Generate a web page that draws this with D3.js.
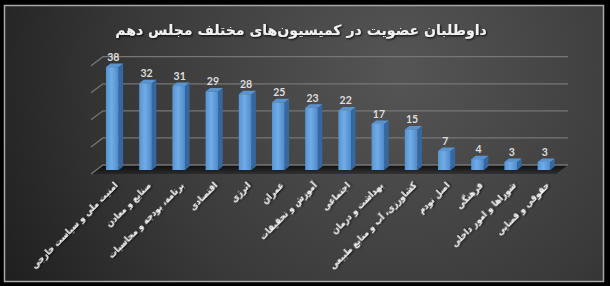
<!DOCTYPE html>
<html><head><meta charset="utf-8">
<script src="https://cdn.jsdelivr.net/npm/d3@7"></script>
<style>
html,body{margin:0;padding:0;background:#000;}
svg{display:block;}
</style></head>
<body>
<script>
const title = "داوطلبان عضویت در کمیسیون‌های مختلف مجلس دهم";
const categories = [
  "امنیت ملی و سیاست خارجی",
  "صنایع و معادن",
  "برنامه، بودجه و محاسبات",
  "اقتصادی",
  "انرژی",
  "عمران",
  "آموزش و تحقیقات",
  "اجتماعی",
  "بهداشت و درمان",
  "کشاورزی، آب و منابع طبیعی",
  "اصل نودم",
  "فرهنگی",
  "شوراها و امور داخلی",
  "حقوقی و قضایی"
];
const values = [38, 32, 31, 29, 28, 25, 23, 22, 17, 15, 7, 4, 3, 3];
const yTicks = [0, 10, 20, 30, 40];

const W = 610, H = 286;
const svg = d3.select("body").append("svg").attr("width", W).attr("height", H);
const defs = svg.append("defs");

const bg = defs.append("radialGradient").attr("id","bg")
  .attr("gradientUnits","userSpaceOnUse").attr("cx",400).attr("cy",70).attr("r",470);
bg.append("stop").attr("offset","0%").attr("stop-color","#555555");
bg.append("stop").attr("offset","55%").attr("stop-color","#3a3a3a");
bg.append("stop").attr("offset","100%").attr("stop-color","#1c1c1c");

const front = defs.append("linearGradient").attr("id","front").attr("x1","0").attr("x2","1").attr("y1","0").attr("y2","0");
front.append("stop").attr("offset","0%").attr("stop-color","#5593d3");
front.append("stop").attr("offset","45%").attr("stop-color","#72ace6");
front.append("stop").attr("offset","100%").attr("stop-color","#4d8acb");

const floorG = defs.append("linearGradient").attr("id","floorG").attr("x1","0").attr("x2","0").attr("y1","0").attr("y2","1");
floorG.append("stop").attr("offset","0%").attr("stop-color","#0a0a0a").attr("stop-opacity",0.95);
floorG.append("stop").attr("offset","100%").attr("stop-color","#111").attr("stop-opacity",0.4);

const shadow = defs.append("filter").attr("id","ts").attr("x","-20%").attr("y","-20%").attr("width","140%").attr("height","140%");
shadow.append("feDropShadow").attr("dx",1).attr("dy",1).attr("stdDeviation",0.8).attr("flood-color","#000").attr("flood-opacity",0.9);

// frame
svg.append("rect").attr("x",0).attr("y",0).attr("width",W).attr("height",H).attr("fill","#000");
svg.append("rect").attr("x",4.5).attr("y",5.5).attr("width",599).attr("height",276)
  .attr("fill","url(#bg)").attr("stroke","#a8a8a8").attr("stroke-width",1.5);

// title
const t = svg.append("text").attr("x",301).attr("y",35)
  .attr("text-anchor","middle").attr("direction","rtl")
  .attr("font-family","DejaVu Sans").attr("font-weight","bold")
  .attr("font-size",18).attr("fill","#f2f2f2").attr("filter","url(#ts)")
  .text(title);
const tw = t.node().getComputedTextLength();
t.attr("font-size", 18 * 372 / tw);

// scales
const x = d3.scaleBand().domain(categories).range([95.7, 560.5]).paddingInner(0.62).paddingOuter(0.31);
const y = d3.scaleLinear().domain([0, 40]).range([174, 65.7]);
const DX = 12, DY = -9;       // wall depth
const BX = 4.5, BY = -3.5;    // bar depth
const bOff = -4;              // bar front offset from front plane
const xL = 91, xR = 568 - DX;

// floor
const g = svg.append("g");
g.append("path")
  .attr("d", `M${xL},${y(0)} L${xL+DX},${y(0)+DY} L${xR+DX},${y(0)+DY} L${xR},${y(0)} Z`)
  .attr("fill","url(#floorG)");

// gridlines
yTicks.forEach(v => {
  const yy = y(v);
  g.append("path")
    .attr("d", `M${xL},${yy} L${xL+DX},${yy+DY} L${xR+DX},${yy+DY}`)
    .attr("fill","none").attr("stroke","#767676").attr("stroke-width",1.3);
});

// bars
const bars = g.selectAll("g.bar").data(values).join("g").attr("class","bar");
bars.each(function(v, i) {
  const sel = d3.select(this);
  const x0 = x(categories[i]), bw = x.bandwidth();
  const yb = y(0) + bOff, yt = y(v) + bOff;
  sel.append("path")
    .attr("d", `M${x0+bw},${yt} L${x0+bw+BX},${yt+BY} L${x0+bw+BX},${yb+BY} L${x0+bw},${yb} Z`)
    .attr("fill","#3567a0");
  sel.append("path")
    .attr("d", `M${x0},${yt} L${x0+BX},${yt+BY} L${x0+bw+BX},${yt+BY} L${x0+bw},${yt} Z`)
    .attr("fill","#5b93cf");
  sel.append("rect").attr("x",x0).attr("y",yt).attr("width",bw).attr("height",yb-yt)
    .attr("fill","url(#front)");
});

// value labels
g.selectAll("text.val").data(values).join("text").attr("class","val")
  .attr("x",(d,i)=>x(categories[i]) + x.bandwidth()/2 + 1)
  .attr("y",d=>y(d) + bOff - 6)
  .attr("text-anchor","middle")
  .attr("font-family","Lato, 'Open Sans', sans-serif").attr("font-weight","bold")
  .attr("font-size",10.5).attr("fill","#dedede")
  .text(d=>d);

// category labels
const cats = g.selectAll("text.cat").data(categories).join("text").attr("class","cat")
  .attr("transform", d => `translate(${x(d) + x.bandwidth()/2 + 1},${181}) rotate(-45)`)
  .attr("text-anchor","start").attr("direction","rtl")
  .attr("dy","0.75em")
  .attr("font-family","'DejaVu Sans Condensed', 'DejaVu Sans'").attr("font-weight","bold")
  .attr("font-size",10).attr("fill","#f4f4f4").attr("filter","url(#ts)")
  .text(d=>d);
const l0 = cats.node().getComputedTextLength();
cats.attr("font-size", 10 * 118 / l0);
</script>
</body></html>
